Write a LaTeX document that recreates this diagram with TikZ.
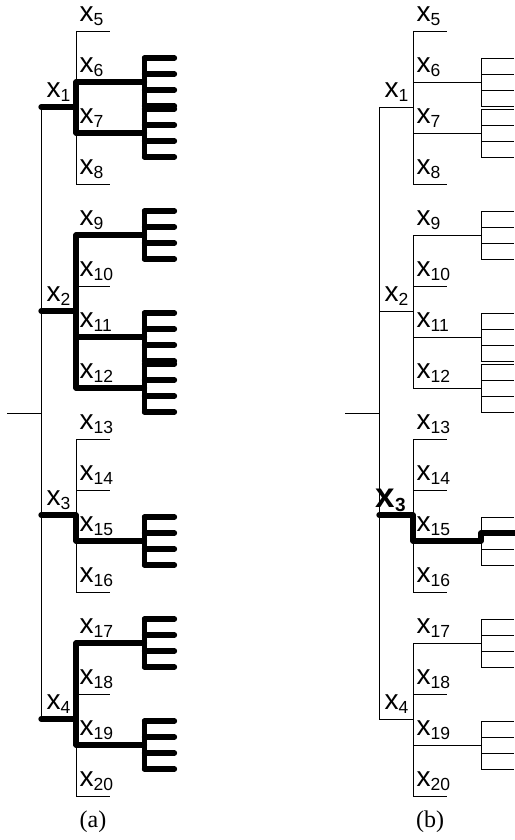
\documentclass[tikz,border=0pt]{standalone}
\usepackage{fontspec}
\setmainfont{Liberation Serif}
\newfontfamily\lblfont{Liberation Sans}
\usetikzlibrary{calc,positioning}

\newcommand{\xsub}[1]{{\lblfont\fontsize{28}{28}\selectfont x\raisebox{-4.5pt}{\fontsize{17.5}{17.5}\selectfont #1}}}
\newcommand{\xsubbf}[1]{{\lblfont\bfseries\fontsize{35}{35}\selectfont x\raisebox{-4pt}{\fontsize{19}{19}\selectfont #1}}}

\begin{document}
\begin{tikzpicture}[x=1pt,y=-1pt,
  thinline/.style={line width=0.8pt},
  boldline/.style={line width=5.3pt,line cap=round,line join=round},
  lbl/.style={inner sep=0pt,anchor=south west}]
\useasboundingbox (0,0) rectangle (514,840);

% (a) all chosen branches in bold
\coordinate (rootA) at (7,413);
\coordinate (trunkA) at (41,413);
\draw[thinline] (rootA) -- (trunkA);
\foreach \k in {1,...,4}{
  \coordinate (hA\k) at (41,{107+(\k-1)*204});
  \coordinate (bA\k) at (76,{107+(\k-1)*204});
}
\foreach \j in {5,...,20}{
  \coordinate (lA\j) at (76,{31+(\j-5)*51});
  \node[lbl] (xA\j) at ([xshift=3.5pt,yshift=5pt]lA\j) {\xsub{\j}};
}
\draw[thinline] (hA1) -- (hA4);
\draw[thinline] (lA5) -- (lA8) (lA9) -- (lA12) (lA13) -- (lA16) (lA17) -- (lA20);
\foreach \j in {5,8,10,13,14,16,18,20}
  \draw[thinline] (lA\j) -- ++(34,0);
\foreach \k in {1,...,4}{
  \draw[boldline] (hA\k) -- (bA\k);
  \node[lbl] (xA\k) at ([xshift=5.5pt,yshift=5pt]hA\k) {\xsub{\k}};
}
\draw[boldline] (lA6) -- (lA7) (lA9) -- (lA12) (bA3) -- (lA15) (lA17) -- (lA19);
\foreach \j in {6,7,9,11,12,15,17,19}{
  \coordinate (cA\j) at ([xshift=68.5pt]lA\j);
  \draw[boldline] (lA\j) -- (cA\j);
  \draw[boldline] ([yshift=24pt]cA\j) -- ([yshift=-24pt]cA\j);
  \foreach \d in {-24,-8,8,24}
    \draw[boldline] ([yshift=\d pt]cA\j) -- ++(30,0);
}
\node (capA) at (93,822) {\fontsize{24}{24}\selectfont (a)};

% (b) only one path in bold
\begin{scope}[xshift=337pt]
\coordinate (rootB) at (8,413);
\coordinate (trunkB) at (42,413);
\draw[thinline] (rootB) -- (trunkB);
\foreach \k in {1,...,4}{
  \coordinate (hB\k) at (42,{107+(\k-1)*204});
  \coordinate (bB\k) at (76,{107+(\k-1)*204});
}
\foreach \j in {5,...,20}{
  \coordinate (lB\j) at (76,{31+(\j-5)*51});
  \node[lbl] (xB\j) at ([xshift=3.5pt,yshift=5pt]lB\j) {\xsub{\j}};
}
\draw[thinline] (hB1) -- (hB4);
\draw[thinline] (lB5) -- (lB8) (lB9) -- (lB12) (lB13) -- (lB16) (lB17) -- (lB20);
\foreach \j in {5,8,10,13,14,16,18,20}
  \draw[thinline] (lB\j) -- ++(34,0);
\foreach \k in {1,2,4}{
  \draw[thinline] (hB\k) -- (bB\k);
  \node[lbl] (xB\k) at ([xshift=5.5pt,yshift=5pt]hB\k) {\xsub{\k}};
}
\node[lbl] (xB3) at ([xshift=-3.5pt,yshift=3pt]hB3) {\xsubbf{3}};
\foreach \j in {6,7,9,11,12,15,17,19}{
  \coordinate (cB\j) at ([xshift=68pt]lB\j);
  \draw[thinline] (lB\j) -- (cB\j);
  \draw[thinline] ([yshift=24pt]cB\j) -- ([yshift=-24pt]cB\j);
  \foreach \d in {-24,-8,8,24}
    \draw[thinline] ([yshift=\d pt]cB\j) -- ++(33,0);
}
\draw[boldline] (hB3) -- (bB3) -- (lB15) -- (cB15) -- ([yshift=8pt]cB15) -- ++(40,0);
\node (capB) at (93,822) {\fontsize{24}{24}\selectfont (b)};
\end{scope}
\end{tikzpicture}
\end{document}
